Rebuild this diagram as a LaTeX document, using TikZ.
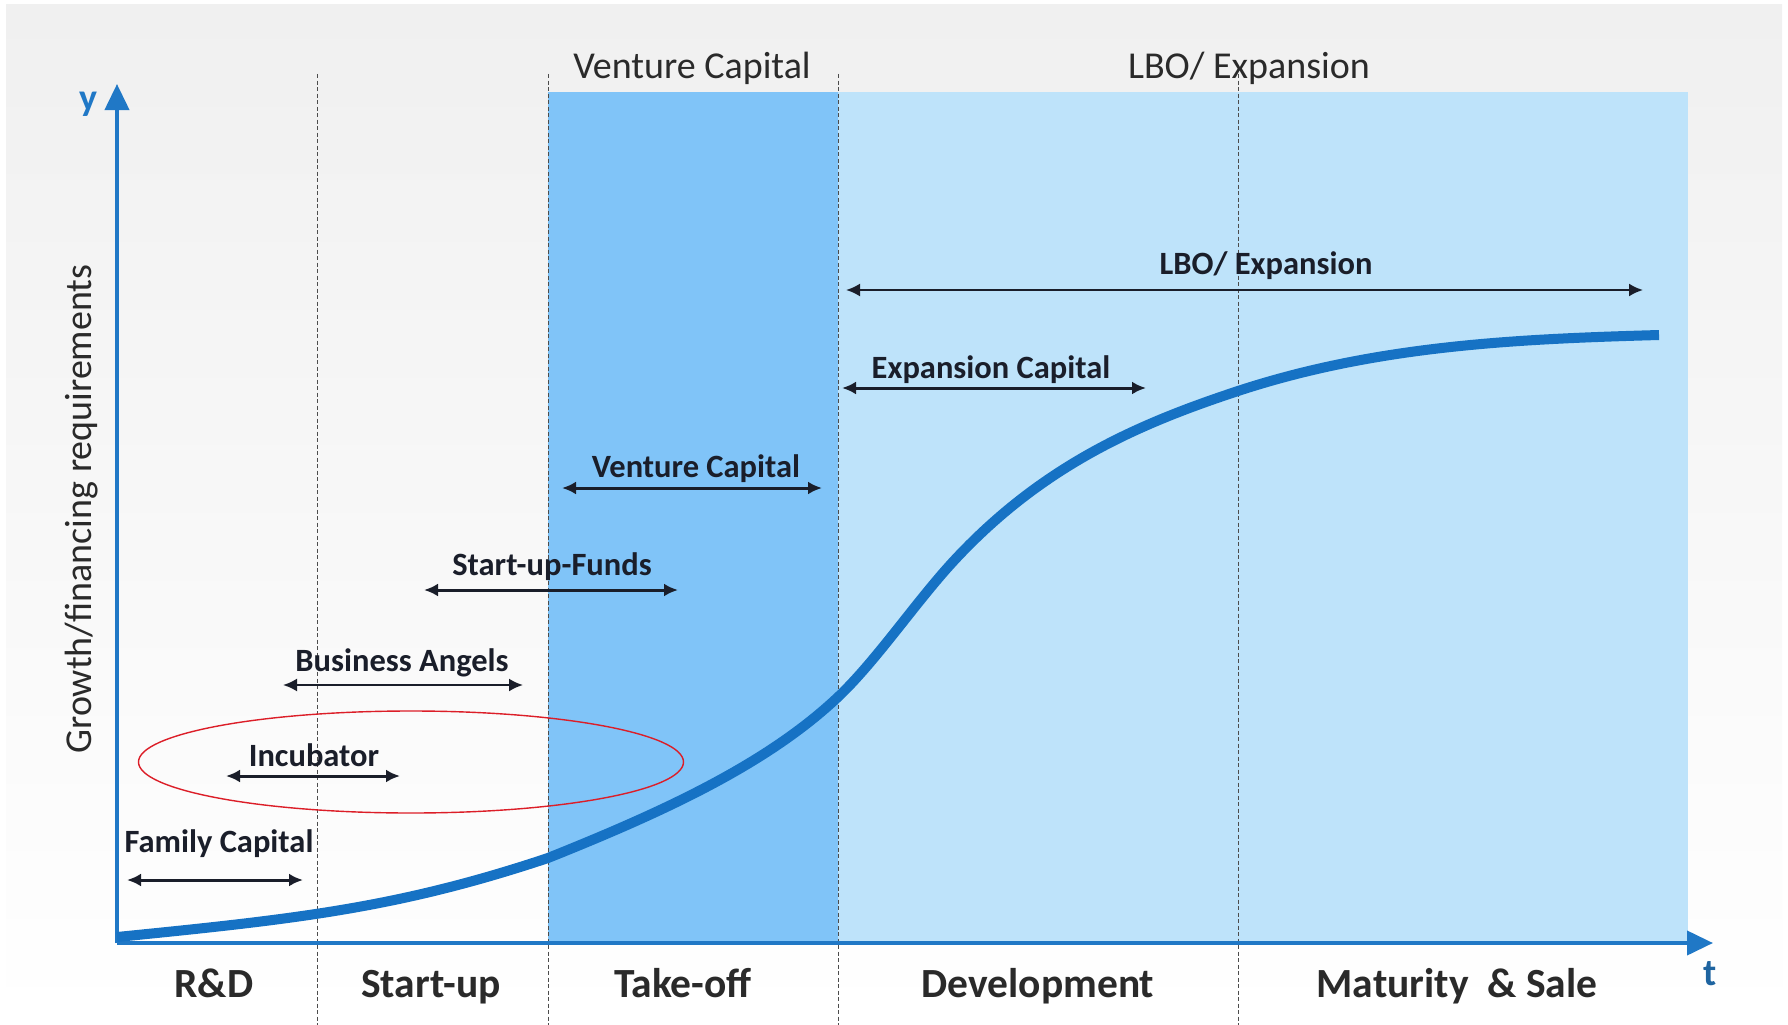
\documentclass[tikz,border=0pt]{standalone}
\usepackage{fontspec}
\setmainfont{Carlito}
\usetikzlibrary{arrows.meta,shapes.geometric}
\definecolor{axisblue}{RGB}{32,120,198}
\definecolor{curveblue}{RGB}{22,114,196}
\definecolor{tblue}{RGB}{30,100,160}
\definecolor{darkband}{RGB}{128,196,248}
\definecolor{lightband}{RGB}{190,227,250}
\definecolor{bggray}{RGB}{240,240,240}
\definecolor{rangecol}{RGB}{26,30,42}
\definecolor{txtgray}{RGB}{42,42,42}
\definecolor{ringred}{RGB}{220,30,40}
\begin{document}
\begin{tikzpicture}[x=1pt,y=-1pt,
  phase/.style={font=\bfseries\fontsize{41.5}{44}\selectfont, text=txtgray, inner sep=0pt, anchor=base},
  toplab/.style={font=\fontsize{38}{40}\selectfont, text=txtgray, inner sep=0pt, anchor=base},
  sidelab/.style={font=\fontsize{38}{40}\selectfont, text=txtgray, inner sep=0pt},
  rangelab/.style={font=\bfseries\fontsize{32.5}{34}\selectfont, text=rangecol, inner sep=0pt, anchor=base},
  rangearrow/.style={draw=rangecol, line width=3pt, {Latex[length=14pt,width=13pt]}-{Latex[length=14pt,width=13pt]}},
  sepline/.style={draw=black!70, line width=0.9pt, dash pattern=on 4pt off 2.5pt},
  axisline/.style={draw=axisblue, line width=4pt, -{Triangle[length=26pt,width=24pt]}},
  axislab/.style={font=\bfseries\fontsize{38}{40}\selectfont, text=axisblue, inner sep=0pt}]

\useasboundingbox (0,0) rectangle (1788,1025);
\fill[white] (0,0) rectangle (1788,1025);
\shade[top color=bggray, bottom color=white, middle color=bggray!50] (6,5) rectangle (1782,1020);

% bands
\fill[darkband] (548,92) rectangle (838,942);
\fill[lightband] (838,92) rectangle (1688,942);

% separators
\foreach \n/\x in {s1/317, s2/548, s3/838, s4/1238}{
  \coordinate (\n top) at (\x,74);
  \coordinate (\n bot) at (\x,1025);
  \draw[sepline] (\n top) -- (\n bot);
}

% axes
\coordinate (O) at (117,943);
\coordinate (ytip) at (117,84);
\coordinate (xtip) at (1713,943);
\draw[axisline] (O) -- (ytip);
\draw[axisline] (O) -- (xtip);

% growth curve
\coordinate (c0) at (117,937);
\coordinate (c1) at (548,858);
\coordinate (c2) at (838,697);
\coordinate (c3) at (950,565);
\coordinate (c4) at (1238,391);
\coordinate (c5) at (1659,335);
\draw[curveblue, line width=10pt]
  (c0) .. controls (297,919) and (398,908) .. (c1)
       .. controls (668,810) and (768,763) .. (c2)
       .. controls (875,662) and (913,606) .. (c3)
       .. controls (1040,466) and (1138,424) .. (c4)
       .. controls (1378,345) and (1519,339) .. (c5);

% axis labels
\node[axislab] (ylab) at (88,104) {y};
\node[axislab, text=tblue] (tlab) at (1710,974) {t};
\node[sidelab, rotate=90] (ylabel) at (82,509) {Growth/financing requirements};

% top labels
\node[toplab] (vctop) at (692,78) {Venture Capital};
\node[toplab] (lbotop) at (1249,78) {LBO/ Expansion};

% phases
\node[phase] (rd) at (214,997) {R\&D};
\node[phase] (su) at (431,997) {Start-up};
\node[phase] (to) at (683,997) {Take-off};
\node[phase] (dev) at (1038,997) {Development};
\node[phase] (mat) at (1457,997) {Maturity\ \ \& Sale};

% ranges
\coordinate (fcA) at (127,880); \coordinate (fcB) at (303,880);
\draw[rangearrow] (fcA) -- (fcB);
\node[rangelab] (fc) at (219,852) {Family Capital};

\coordinate (inA) at (226,776); \coordinate (inB) at (400,776);
\draw[rangearrow] (inA) -- (inB);
\node[rangelab] (inc) at (314,766) {Incubator};

\coordinate (baA) at (283,685); \coordinate (baB) at (523,685);
\draw[rangearrow, line width=2.2pt] (baA) -- (baB);
\node[rangelab] (ba) at (402,671) {Business Angels};

\coordinate (sfA) at (424,590); \coordinate (sfB) at (678,590);
\draw[rangearrow] (sfA) -- (sfB);
\node[rangelab] (sf) at (552,575) {Start-up-Funds};

\coordinate (vcA) at (562,488); \coordinate (vcB) at (822,488);
\draw[rangearrow] (vcA) -- (vcB);
\node[rangelab] (vc) at (696,477) {Venture Capital};

\coordinate (ecA) at (842,388); \coordinate (ecB) at (1146,388);
\draw[rangearrow] (ecA) -- (ecB);
\node[rangelab] (ec) at (991,378) {Expansion Capital};

\coordinate (lbA) at (846,290); \coordinate (lbB) at (1643,290);
\draw[rangearrow, line width=2.2pt] (lbA) -- (lbB);
\node[rangelab] (lb) at (1266,274) {LBO/ Expansion};

% highlight ring
\node[draw=ringred, line width=1.4pt, ellipse, minimum width=545pt, minimum height=102pt, inner sep=0pt] (ring) at (411,762) {};
\end{tikzpicture}
\end{document}
